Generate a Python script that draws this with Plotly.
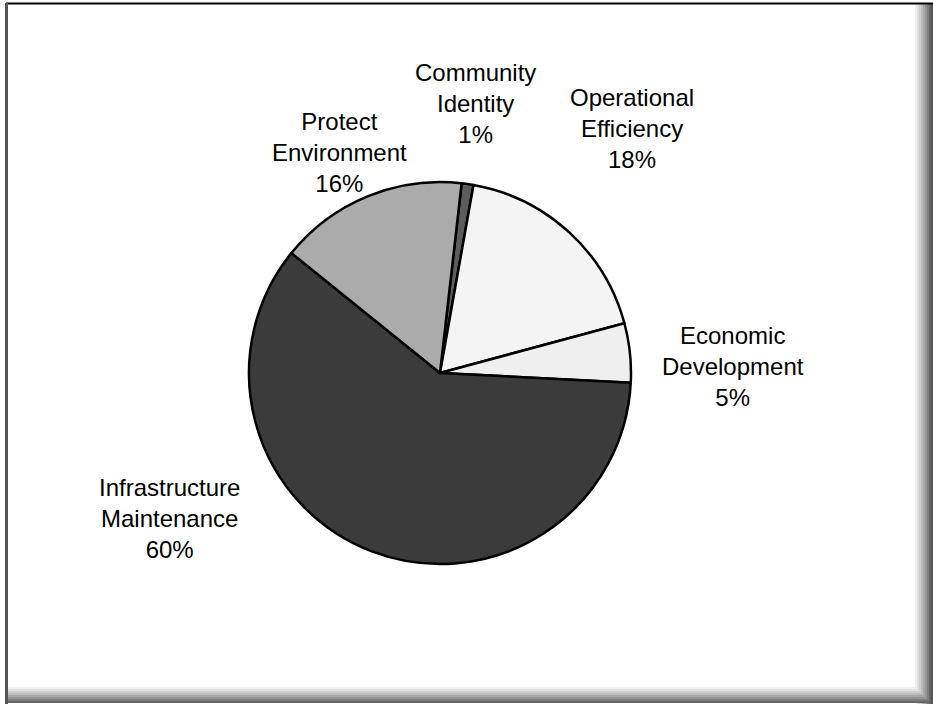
import plotly.graph_objects as go

# Budget allocation shares (percent)
categories = ["Community Identity", "Operational Efficiency", "Economic Development",
              "Infrastructure Maintenance", "Protect Environment"]
shares = [1, 18, 5, 60, 16]
# Label text split over lines
label_lines = [["Community", "Identity"], ["Operational", "Efficiency"],
               ["Economic", "Development"], ["Infrastructure", "Maintenance"],
               ["Protect", "Environment"]]

slice_colors = ["#5c5c5c", "#f4f4f4", "#efefef", "#3b3b3b", "#ababab"]
# Label block centres in page pixels (x, y from top)
label_pos = [(475, 104), (632, 128), (733, 366), (169, 518), (339, 153)]

W, H = 933, 704
cx, cy, r = 440, 373, 191

fig = go.Figure(go.Pie(
    labels=categories,
    values=shares,
    sort=False,
    direction="clockwise",
    rotation=6.5,
    marker=dict(colors=slice_colors, line=dict(color="#000000", width=2.5)),
    textinfo="none",
    hoverinfo="skip",
    showlegend=False,
    domain=dict(x=[(cx - r) / W, (cx + r) / W], y=[(H - cy - r) / H, (H - cy + r) / H]),
))

total = sum(shares)
for lines, v, (px, py) in zip(label_lines, shares, label_pos):
    txt = "<br>".join(lines + [f"{round(100 * v / total)}%"])
    fig.add_annotation(
        x=px / W, y=1 - py / H, xref="paper", yref="paper",
        text=txt, showarrow=False, xanchor="center", yanchor="middle",
        align="center", font=dict(family="Liberation Sans, Arial", size=24, color="#000000"),
    )

shapes = []
# right and bottom drop shadow, fading in
shadow_grays = ["#f0f0f0", "#e0e0e0", "#cecece", "#bcbcbc", "#a8a8a8",
                "#949494", "#7e7e7e", "#666666"]
for i, g in enumerate(shadow_grays):
    x0 = 915 + 2 * i
    shapes.append(dict(type="rect", xref="paper", yref="paper",
                       x0=x0 / W, x1=(x0 + 2) / W, y0=0, y1=1 - 3 / H,
                       fillcolor=g, line=dict(width=0), layer="below"))
    y0 = 687 + 2 * i
    shapes.append(dict(type="rect", xref="paper", yref="paper",
                       x0=7 / W, x1=1, y0=1 - (y0 + 2) / H, y1=1 - y0 / H,
                       fillcolor=g, line=dict(width=0), layer="below"))
shapes.append(dict(type="rect", xref="paper", yref="paper",
                   x0=931 / W, x1=1, y0=0, y1=1 - 3 / H,
                   fillcolor="#555555", line=dict(width=0), layer="below"))
# top and left frame lines
shapes.append(dict(type="line", xref="paper", yref="paper",
                   x0=6 / W, x1=1, y0=1 - 3.5 / H, y1=1 - 3.5 / H,
                   line=dict(color="#000000", width=2)))
shapes.append(dict(type="line", xref="paper", yref="paper",
                   x0=6.5 / W, x1=6.5 / W, y0=0, y1=1 - 3 / H,
                   line=dict(color="#555555", width=3)))

fig.update_layout(
    width=W, height=H,
    margin=dict(l=0, r=0, t=0, b=0),
    paper_bgcolor="#ffffff",
    plot_bgcolor="#ffffff",
    shapes=shapes,
)

fig.write_html("out.html", config={"displayModeBar": False})
